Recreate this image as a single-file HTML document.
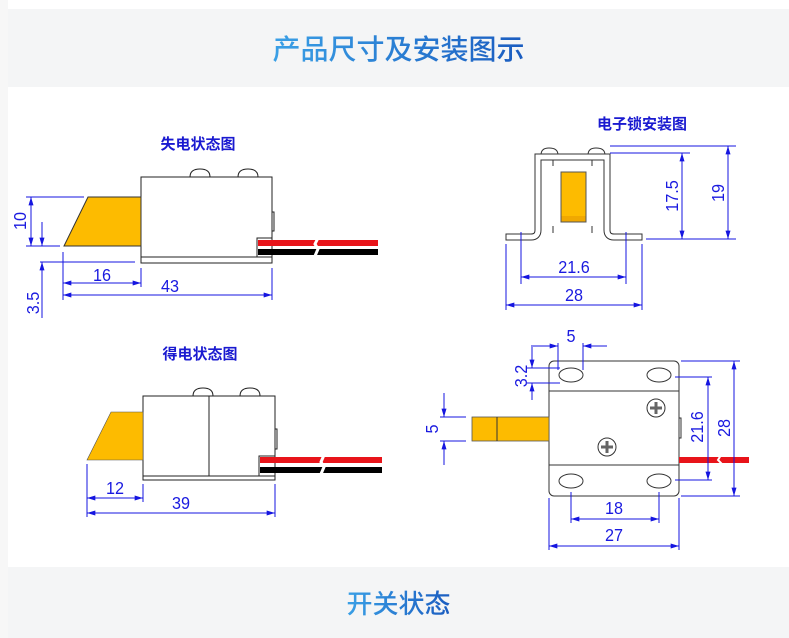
<!DOCTYPE html>
<html><head><meta charset="utf-8">
<style>
html,body{margin:0;padding:0;background:#fff;width:789px;height:638px;overflow:hidden;position:relative;font-family:"Liberation Sans","Noto Sans CJK SC",sans-serif}
.band{position:absolute;left:8px;right:0;background:#f4f5f6;text-align:center;font-family:"Noto Sans CJK SC",sans-serif;font-weight:500}
.band span{background:linear-gradient(90deg,#3aa0e6,#1a5cc0);-webkit-background-clip:text;background-clip:text;color:transparent}
.leftstrip{position:absolute;left:0;top:0;width:8px;height:638px;background:#f7f7f7}
svg{position:absolute;left:0;top:0}
</style></head><body>
<div class="leftstrip"></div>
<div class="band" style="top:9px;height:78px;line-height:78px;font-size:28px"><span>产品尺寸及安装图示</span></div>
<div class="band" style="top:567px;height:71px;line-height:71px;font-size:26px"><span>开关状态</span></div>
<svg width="789" height="638" viewBox="0 0 789 638" xmlns="http://www.w3.org/2000/svg">
<defs>
<marker id="a" viewBox="0 0 10 6" refX="10" refY="3" markerWidth="9" markerHeight="5" markerUnits="userSpaceOnUse" orient="auto-start-reverse"><path d="M0,0L10,3L0,6z" fill="#1515e0"/></marker>
</defs>
<g font-family="'Liberation Sans','Noto Sans CJK SC',sans-serif">
<g fill="#1a1ad0" font-weight="bold" font-size="15" text-anchor="middle" font-family="'Noto Sans CJK SC',sans-serif">
<text x="198" y="149">失电状态图</text>
<text x="200" y="359">得电状态图</text>
<text x="642" y="129">电子锁安装图</text>
</g>

<g stroke="#222" stroke-width="1" fill="#fff">
<path d="M190,177 Q190,169 200,169 Q210,169 210,177" />
<path d="M238,177 Q238,169 248,169 Q258,169 258,177" />
<rect x="141" y="177" width="131" height="86"/>
<line x1="141" y1="257" x2="272" y2="257"/>
<rect x="272" y="212" width="2" height="19"/>
<rect x="257" y="238" width="15" height="19"/>
</g>
<polygon points="88,197 141,197 141,246 64,246" fill="#fdbb00" stroke="#333" stroke-width="1"/>
<rect x="258" y="240" width="120" height="6" fill="#e8141a"/>
<rect x="258" y="249" width="120" height="6" fill="#000"/>
<path d="M318,238 l-3,6 l3,5 l-3,7" stroke="#fff" stroke-width="3" fill="none"/>
<g stroke="#1515e0" stroke-width="1" fill="none">
<line x1="26" y1="197" x2="84" y2="197"/><line x1="26" y1="246" x2="60" y2="246"/>
<line x1="31" y1="197" x2="31" y2="246" marker-start="url(#a)" marker-end="url(#a)"/>
<line x1="40" y1="262" x2="135" y2="262"/>
<line x1="42" y1="222" x2="42" y2="246" marker-end="url(#a)"/>
<line x1="42" y1="262" x2="42" y2="318" marker-start="url(#a)"/>
<line x1="63" y1="252" x2="63" y2="300"/><line x1="141" y1="268" x2="141" y2="287"/>
<line x1="272" y1="268" x2="272" y2="300"/>
<line x1="63" y1="283" x2="141" y2="283" marker-start="url(#a)" marker-end="url(#a)"/>
<line x1="63" y1="295" x2="272" y2="295" marker-start="url(#a)" marker-end="url(#a)"/>
</g>

<g stroke="#222" stroke-width="1" fill="#fff">
<path d="M193,396 Q193,388 203,388 Q213,388 213,396"/>
<path d="M240,396 Q240,388 250,388 Q260,388 260,396"/>
<rect x="143" y="396" width="132" height="84"/>
<line x1="209" y1="396" x2="209" y2="476"/>
<line x1="143" y1="476" x2="275" y2="476"/>
<rect x="275" y="429" width="2" height="20"/>
<rect x="259" y="456" width="16" height="20"/>
</g>
<polygon points="111,412 143,412 143,460 87,460" fill="#fdbb00" stroke="#555" stroke-width="0.6"/>
<rect x="260" y="457" width="122" height="6" fill="#e8141a"/>
<rect x="260" y="467" width="122" height="6" fill="#000"/>
<path d="M324,455 l-3,7 l3,5 l-3,7" stroke="#fff" stroke-width="3" fill="none"/>
<g stroke="#1515e0" stroke-width="1" fill="none">
<line x1="87" y1="464" x2="87" y2="517"/><line x1="143" y1="484" x2="143" y2="502"/>
<line x1="275" y1="484" x2="275" y2="517"/>
<line x1="87" y1="498" x2="143" y2="498" marker-start="url(#a)" marker-end="url(#a)"/>
<line x1="87" y1="513" x2="275" y2="513" marker-start="url(#a)" marker-end="url(#a)"/>
</g>

<g stroke="#333" fill="#fff" stroke-width="1">
<path d="M541,155 Q541,148 549,148 Q558,148 558,155"/>
<path d="M588,155 Q588,148 596,148 Q605,148 605,155"/>
</g>
<path d="M506,237 H531 Q538,237 538,230 V157 H607 V230 Q607,237 614,237 H642" stroke="#333" stroke-width="7" fill="none"/>
<path d="M506,237 H531 Q538,237 538,230 V157 H607 V230 Q607,237 614,237 H642" stroke="#fff" stroke-width="5" fill="none"/>
<path d="M506,233.5 V240.5 M642,233.5 V240.5" stroke="#333" stroke-width="1"/>
<g stroke="#333" stroke-width="1"><line x1="553" y1="160" x2="553" y2="166"/><line x1="592" y1="160" x2="592" y2="166"/><line x1="553" y1="226" x2="553" y2="233"/><line x1="592" y1="226" x2="592" y2="233"/></g>
<rect x="561" y="172" width="25" height="50" fill="#fdbb00" stroke="#555" stroke-width="1"/>
<rect x="561.5" y="216" width="24" height="5.5" fill="#f0a800"/>
<g stroke="#1515e0" stroke-width="1" fill="none">
<line x1="610" y1="153" x2="690" y2="153"/><line x1="610" y1="146" x2="736" y2="146"/>
<line x1="646" y1="239" x2="736" y2="239"/>
<line x1="682" y1="153" x2="682" y2="239" marker-start="url(#a)" marker-end="url(#a)"/>
<line x1="728" y1="146" x2="728" y2="239" marker-start="url(#a)" marker-end="url(#a)"/>
<line x1="521" y1="232" x2="521" y2="284"/><line x1="626" y1="232" x2="626" y2="284"/>
<line x1="506" y1="244" x2="506" y2="310"/><line x1="642" y1="244" x2="642" y2="310"/>
<line x1="521" y1="277" x2="626" y2="277" marker-start="url(#a)" marker-end="url(#a)"/>
<line x1="506" y1="305" x2="642" y2="305" marker-start="url(#a)" marker-end="url(#a)"/>
</g>

<rect x="549" y="361" width="130" height="135" rx="5" fill="#fff" stroke="#333" stroke-width="1"/>
<g stroke="#333" stroke-width="1" fill="#fff">
<line x1="549" y1="391" x2="679" y2="391"/><line x1="549" y1="465" x2="679" y2="465"/>
<ellipse cx="571" cy="375" rx="12" ry="7"/><ellipse cx="659" cy="375" rx="12" ry="7"/>
<ellipse cx="571" cy="481" rx="12" ry="7"/><ellipse cx="659" cy="481" rx="12" ry="7"/>
<circle cx="656" cy="408" r="9"/><circle cx="607" cy="447" r="9"/>
<rect x="679" y="418" width="2" height="20"/>
</g>
<g stroke="#666" stroke-width="3"><path d="M656,402V414M650,408H662M607,441V453M601,447H613"/></g>
<rect x="472" y="417" width="77" height="24" fill="#fdbb00" stroke="#555" stroke-width="0.8"/>
<line x1="497" y1="417" x2="497" y2="441" stroke="#333" stroke-width="1"/>
<rect x="679" y="457" width="70" height="6" fill="#e8141a"/>
<g stroke="#1515e0" stroke-width="1" fill="none">
<line x1="558" y1="343" x2="558" y2="370"/><line x1="583" y1="343" x2="583" y2="370"/>
<line x1="533" y1="346" x2="558" y2="346" marker-end="url(#a)"/>
<line x1="607" y1="346" x2="583" y2="346" marker-end="url(#a)"/>
<line x1="527" y1="368" x2="560" y2="368"/><line x1="527" y1="383" x2="560" y2="383"/>
<line x1="532" y1="345" x2="532" y2="368" marker-end="url(#a)"/>
<line x1="532" y1="400" x2="532" y2="383" marker-end="url(#a)"/>
<line x1="440" y1="417" x2="466" y2="417"/><line x1="440" y1="441" x2="466" y2="441"/>
<line x1="444" y1="393" x2="444" y2="417" marker-end="url(#a)"/>
<line x1="444" y1="465" x2="444" y2="441" marker-end="url(#a)"/>
<line x1="675" y1="377" x2="712" y2="377"/><line x1="675" y1="480" x2="712" y2="480"/>
<line x1="681" y1="361" x2="740" y2="361"/><line x1="681" y1="496" x2="740" y2="496"/>
<line x1="708" y1="377" x2="708" y2="480" marker-start="url(#a)" marker-end="url(#a)"/>
<line x1="734" y1="361" x2="734" y2="496" marker-start="url(#a)" marker-end="url(#a)"/>
<line x1="571" y1="492" x2="571" y2="523"/><line x1="659" y1="492" x2="659" y2="523"/>
<line x1="549" y1="498" x2="549" y2="550"/><line x1="679" y1="498" x2="679" y2="550"/>
<line x1="571" y1="519" x2="659" y2="519" marker-start="url(#a)" marker-end="url(#a)"/>
<line x1="549" y1="546" x2="679" y2="546" marker-start="url(#a)" marker-end="url(#a)"/>
</g>
<path d="M721,455 l-3,5 l3,3 l-3,5" stroke="#fff" stroke-width="2" fill="none"/>

<g fill="#1a1ae0" font-size="18" text-anchor="middle">
<text transform="translate(102,281) scale(0.9,1)">16</text>
<text transform="translate(170,292) scale(0.9,1)">43</text>
<text transform="translate(115,494) scale(0.9,1)">12</text>
<text transform="translate(181,509) scale(0.9,1)">39</text>
<text transform="translate(574,273) scale(0.9,1)">21.6</text>
<text transform="translate(574,301) scale(0.9,1)">28</text>
<text transform="translate(571,342) scale(0.9,1)">5</text>
<text transform="translate(614,514) scale(0.9,1)">18</text>
<text transform="translate(614,541) scale(0.9,1)">27</text>
<text transform="translate(26,221) rotate(-90) scale(0.9,1)">10</text>
<text transform="translate(39,303) rotate(-90) scale(0.9,1)">3.5</text>
<text transform="translate(678,196) rotate(-90) scale(0.9,1)">17.5</text>
<text transform="translate(724,193) rotate(-90) scale(0.9,1)">19</text>
<text transform="translate(527,376) rotate(-90) scale(0.9,1)">3.2</text>
<text transform="translate(438,429) rotate(-90) scale(0.9,1)">5</text>
<text transform="translate(703,427) rotate(-90) scale(0.9,1)">21.6</text>
<text transform="translate(730,428) rotate(-90) scale(0.9,1)">28</text>
</g>
</g>
</svg>
</body></html>
